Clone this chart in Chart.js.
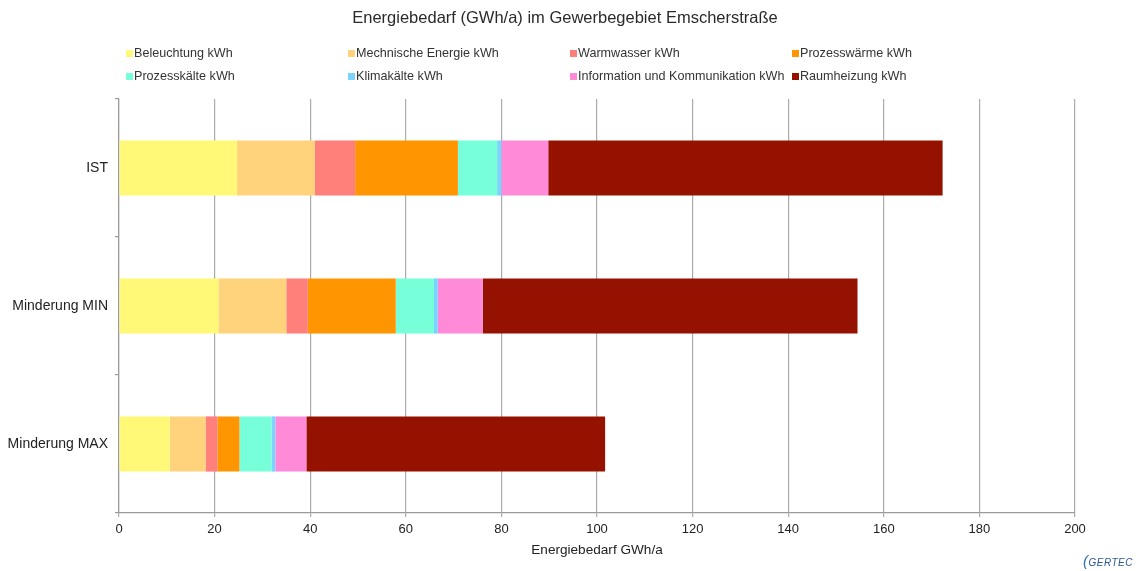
<!DOCTYPE html>
<html>
<head>
<meta charset="utf-8">
<script src="https://cdn.jsdelivr.net/npm/chart.js@4.4.0/dist/chart.umd.min.js"></script>
<style>
  html, body { margin: 0; padding: 0; background: #fff; }
  #wrap { position: relative; width: 1138px; height: 571px; font-family: "Liberation Sans", Arial, sans-serif; color: #333; }
  #chart { position: absolute; left: 0; top: 0; }
  #title { position: absolute; left: 0; top: 8px; width: 1130px; text-align: center; font-size: 16.5px; color: #2a2a2a; }
  #legend { position: absolute; left: 126px; top: 44px; display: grid; grid-template-columns: repeat(4, 222px); row-gap: 6px; font-size: 12.6px; color: #333; }
  #legend .item { display: flex; align-items: center; height: 17px; white-space: nowrap; }
  #legend .box { width: 7px; height: 7px; margin-right: 1px; margin-top: 1px; }
  #logo { position: absolute; right: 5px; bottom: 2px; font-size: 10px; font-style: italic; color: #2b5797; letter-spacing: 0.5px; }
  #logo b { font-weight: normal; font-size: 15px; color: #3b6fb5; }
</style>
</head>
<body>
<div id="wrap">
  <canvas id="chart" width="1138" height="571"></canvas>
  <div id="title">Energiebedarf (GWh/a) im Gewerbegebiet Emscherstraße</div>
  <div id="legend"></div>
  <div id="logo"><b>(</b>GERTEC</div>
</div>
<script>
// Szenarien (Kategorien der y-Achse)
const categories = ['IST', 'Minderung MIN', 'Minderung MAX'];

// Energiebedarf je Verwendungszweck in GWh/a
const beleuchtung       = [24.7, 20.8, 10.6];
const mechnischeEnergie = [16.3, 14.2, 7.5];
const warmwasser        = [8.4, 4.5, 2.5];
const prozesswaerme     = [21.5, 18.4, 4.6];
const prozesskaelte     = [8.2, 8.0, 6.7];
const klimakaelte       = [0.9, 0.8, 0.8];
const information       = [9.8, 9.4, 6.5];
const raumheizung       = [82.5, 78.4, 62.5];

const seriesLabels = [
  'Beleuchtung kWh', 'Mechnische Energie kWh', 'Warmwasser kWh', 'Prozesswärme kWh',
  'Prozesskälte kWh', 'Klimakälte kWh', 'Information und Kommunikation kWh', 'Raumheizung kWh'
];
const seriesValues = [
  beleuchtung, mechnischeEnergie, warmwasser, prozesswaerme,
  prozesskaelte, klimakaelte, information, raumheizung
];
const seriesColors = [
  '#fff977', '#ffd27c', '#ff7f7a', '#ff9500',
  '#77ffd9', '#7dd3ff', '#ff8ad8', '#951200'
];

const axisMin = 0, axisMax = 200, axisStep = 20;

const datasets = seriesLabels.map((label, i) => ({
  label,
  data: seriesValues[i],
  backgroundColor: seriesColors[i],
  borderWidth: 0,
  barPercentage: 0.4,
  categoryPercentage: 1.0
}));

const chart = new Chart(document.getElementById('chart'), {
  type: 'bar',
  data: { labels: categories, datasets },
  options: {
    responsive: false,
    animation: false,
    indexAxis: 'y',
    layout: { padding: { top: 99, right: 63, left: 0, bottom: 0 } },
    plugins: {
      legend: { display: false },
      title: { display: false },
      tooltip: { enabled: false }
    },
    scales: {
      x: {
        stacked: true,
        min: axisMin,
        max: axisMax,
        ticks: { stepSize: axisStep, color: '#222', font: { family: 'Liberation Sans', size: 13 }, padding: 5 },
        grid: { color: '#ababab', lineWidth: 1.2, tickLength: 4 },
        border: { color: '#9a9a9a', width: 1.2 },
        title: {
          display: true,
          text: 'Energiebedarf GWh/a',
          color: '#222',
          font: { family: 'Liberation Sans', size: 13.6 },
          padding: { top: 0, bottom: 13 }
        },
        afterFit(scale) { scale.height = 58; }
      },
      y: {
        stacked: true,
        ticks: { color: '#222', font: { family: 'Liberation Sans', size: 14 }, padding: 7 },
        grid: { drawOnChartArea: false, offset: true, tickLength: 4, color: '#9a9a9a', lineWidth: 1.2 },
        border: { color: '#9a9a9a', width: 1.2 },
        afterFit(scale) { scale.width = 119; }
      }
    }
  }
});

// Legende in vier Spalten aus den Datensätzen aufbauen
const legendEl = document.getElementById('legend');
chart.data.datasets.forEach(ds => {
  const item = document.createElement('div');
  item.className = 'item';
  const box = document.createElement('span');
  box.className = 'box';
  box.style.background = ds.backgroundColor;
  const text = document.createElement('span');
  text.textContent = ds.label;
  item.appendChild(box);
  item.appendChild(text);
  legendEl.appendChild(item);
});
</script>
</body>
</html>
